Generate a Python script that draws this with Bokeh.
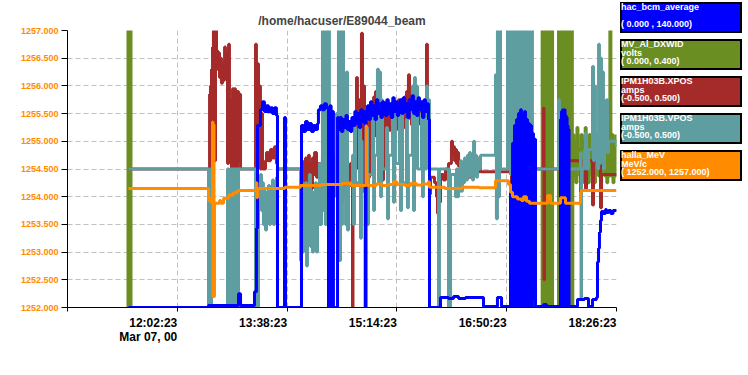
from bokeh.plotting import figure
from bokeh.models import Range1d, FixedTicker, PrintfTickFormatter, LinearAxis, Div
from bokeh.layouts import row
from bokeh.embed import file_html
from bokeh.resources import INLINE

FONT = "Liberation Sans"
TITLE = "/home/hacuser/E89044_beam"

# x = minutes after 10:26:23 (Mar 07, 00)
x_ticks = [0, 96, 192, 288, 384, 480]
x_tick_labels = ["", "12:02:23", "13:38:23", "15:14:23", "16:50:23", "18:26:23"]
date_label = "Mar 07, 00"
y_ticks = [1252.0, 1252.5, 1253.0, 1253.5, 1254.0, 1254.5, 1255.0, 1255.5, 1256.0, 1256.5, 1257.0]

series_names = ["hac_bcm_average", "MV_Al_DXWID", "IPM1H03B.XPOS", "IPM1H03B.VPOS", "halla_MeV"]
series_units = ["", "volts", "amps", "amps", "MeV/c"]
series_range_labels = ["( 0.000 , 140.000)", "( 0.000, 0.400)", "(-0.500, 0.500)", "(-0.500, 0.500)", "( 1252.000, 1257.000)"]
series_ranges = [(0.0, 140.0), (0.0, 0.4), (-0.5, 0.5), (-0.5, 0.5), (1252.0, 1257.0)]
series_colors = ["#0000FF", "#6B8E23", "#A52A2A", "#5F9EA0", "#FF8C00"]

# hac_bcm_average
bcm_t = [53.3, 123.3, 149.5, 151.3, 163.5, 165.2, 166.1, 168.7, 170.5, 172.2, 174.0, 175.7, 177.5, 179.2, 181.0, 182.7, 183.6, 189.7, 190.6, 204.6, 206.4, 208.1, 209.8, 211.5, 213.3, 215.1, 216.8, 218.6, 219.4, 221.2, 222.9, 224.7, 226.4, 228.2, 229.5, 230.5, 231.5, 232.5, 236.1,
         236.9, 238.2, 239.5, 240.8, 242.1, 243.4, 244.7, 246.0, 247.3, 248.6, 249.9, 251.2, 252.5, 253.8, 255.1, 256.4, 257.7, 259.0, 260.3, 261.0, 262.3, 263.6, 264.9, 266.2, 267.5, 268.8, 270.1, 271.4, 272.7, 274.0, 275.3, 276.6, 277.9, 279.2, 280.5, 281.8, 283.1, 284.4, 285.7, 287.0, 288.3, 289.6, 290.9, 292.2, 293.5, 294.8, 296.1, 297.4, 298.7, 300.0, 301.3, 302.6, 303.9, 305.2, 306.5, 307.8, 309.1, 310.4, 311.7, 313.0, 314.3, 315.6,
         316.5, 326.1, 333.1, 337.5, 341.9, 348.0, 363.7, 375.9, 379.5,
         387.3, 388.2, 389.1, 389.9, 390.8, 391.7, 392.6, 393.4, 394.3, 395.2, 396.1, 396.9, 397.8, 398.7, 399.6, 400.4, 401.3, 402.2, 403.1, 403.9, 404.8, 405.7, 406.5, 407.4, 408.3, 409.2, 410.0, 416.2, 418.8,
         431.0, 431.5, 431.9, 432.4, 432.8, 433.3, 433.7, 434.1, 434.5, 435.0, 435.4, 435.9, 436.3, 436.8, 437.2, 437.6, 438.1, 438.5,
         445.9, 452.0, 455.5, 459.0, 462.5, 463.4, 464.3, 465.1, 466.0, 466.9, 468.6, 470.4, 471.2, 473.0, 475.0, 477.0, 480.0]
bcm_v = [0, 1, 7, 1, 8, 40, 92, 100, 104, 99, 102, 99, 101, 98, 101, 97, 0, 96, 0, 92, 89, 94, 90, 93, 89, 92, 90, 93, 100, 102, 100, 103, 101, 0, 102, 0, 99, 0, 96,
         90, 96, 89, 95, 91, 97, 90, 94, 89, 96, 92, 99, 93, 98, 91, 100, 94, 99, 0, 97, 102, 95, 104, 97, 102, 95, 105, 98, 103, 96, 104, 99, 97, 105, 98, 103, 96, 106, 99, 104, 97, 102, 105, 98, 106, 99, 103, 96, 105, 100, 107, 98, 104, 97, 106, 100, 104, 96, 105, 99, 103, 95,
         0, 5, 4.5, 5.5, 4.5, 5, 0.5, 5, 0.5,
         60, 0, 83, 2, 92, 0, 95, 5, 98, 0, 100, 3, 97, 0, 99, 6, 95, 0, 93, 2, 92, 0, 88, 4, 85, 0, 0.5, 1.5, 0.5,
         95, 0, 99, 2, 100, 0, 98, 3, 100, 0, 97, 0, 96, 2, 92, 0, 90, 0.5,
         4, 4.5, 0.5, 4, 5, 23, 30, 38, 44, 48.5, 47.5, 49.5, 48, 49, 47.5, 49, 48.5]

# MV_Al_DXWID
dx_t = [52.5, 52.9, 53.3, 53.7, 54.2, 54.6, 55.1, 55.5,
        415.0, 415.4, 415.9, 416.3, 416.7, 417.2, 417.6, 418.1, 418.5, 418.9, 419.4, 419.8, 420.2, 420.7, 421.1, 421.5, 422.0, 422.4, 422.9, 423.3, 423.7, 424.1,
        429.3, 429.7, 430.2, 430.6, 431.1, 431.5, 432.0, 432.4, 432.9, 433.3, 433.8, 434.2, 434.7, 435.1, 435.6, 436.0, 436.5, 436.9, 437.4, 437.8, 438.3, 438.7, 439.2, 439.6, 440.1, 440.5, 441.0, 441.4,
        441.8, 442.7, 443.6, 444.5, 445.4, 446.3, 447.2, 448.1, 449.0, 449.9, 450.8, 451.7, 452.6, 453.5, 454.4, 455.3, 456.2, 457.1, 458.0, 458.9, 459.8, 460.7, 461.6, 462.5, 463.4, 464.3, 465.2, 466.1, 467.0, 467.9, 468.8, 469.7, 470.6, 471.5, 472.4, 473.3, 474.2, 475.1, 476.0, 476.9, 477.8, 478.7, 479.6]
dx_v = [0.6, -0.1, 0.6, -0.1, 0.6, -0.1, 0.6, -0.1,
        0.6, -0.1, 0.6, -0.1, 0.6, -0.1, 0.6, -0.1, 0.6, -0.1, 0.6, -0.1, 0.6, -0.1, 0.6, -0.1, 0.6, -0.1, 0.6, -0.1, 0.6, -0.1,
        0.6, -0.1, 0.6, -0.1, 0.6, -0.1, 0.6, -0.1, 0.6, -0.1, 0.6, -0.1, 0.6, -0.1, 0.6, -0.1, 0.6, -0.1, 0.6, -0.1, 0.6, -0.1, 0.6, -0.1, 0.6, -0.1, 0.6, -0.1,
        0.25, 0.19, 0.24, 0.18, 0.26, 0.2, 0.23, 0.19, 0.25, 0.18, 0.24, 0.2, 0.26, 0.19, 0.23, 0.18, 0.25, 0.2, 0.24, 0.19, 0.26, 0.18, 0.23, 0.2, 0.25, 0.19, 0.24, 0.18, 0.26, 0.2, 0.23, 0.19, 0.25, 0.18, 0.24, 0.19, 0.6, 0.19, 0.25, 0.18, 0.24, 0.19, 0.25]

# IPM1H03B.XPOS
xpos_t = [53.3, 124.2, 124.6, 125.0, 125.4, 125.9, 126.3, 126.8, 127.6, 128.5, 129.0, 129.4, 130.3, 131.1, 132.0, 132.9, 133.8, 134.6, 135.5, 136.4, 137.3, 138.1, 139.0, 139.9, 140.8, 141.6, 142.5, 143.4, 144.3, 145.1, 146.0, 146.9, 148.6, 149.5, 150.4, 151.3,
          164.4, 165.2, 166.1, 167.0, 167.8, 168.7, 169.6, 170.5, 173.1, 174.0, 175.7, 177.5, 179.2, 181.0, 182.7, 183.6,
          203.7, 204.6, 205.5, 206.4, 207.2, 208.1, 209.0, 210.7, 211.5, 212.4, 213.3, 214.2, 215.1, 216.0, 217.7, 219.4, 221.2, 222.9, 223.8, 224.7, 226.4, 229.9, 232.0, 238.7, 239.5, 240.4, 241.3, 242.2, 243.1, 243.9, 244.8, 245.7, 246.6, 247.4, 248.3, 249.2, 249.6,
          252.7, 253.5, 254.4, 255.3, 256.2, 257.0, 257.9, 258.8, 259.7, 260.5, 261.4, 262.3, 263.2, 264.1, 264.9, 265.8, 266.7, 267.6, 268.4, 269.3, 270.2, 271.0, 271.9, 272.8, 273.7, 274.6, 275.4, 276.3, 277.2, 278.0, 278.9, 279.8, 280.7, 282.4, 283.3, 284.1, 285.0, 285.9, 286.7, 287.6, 288.5, 289.4, 290.2, 291.1, 292.0, 292.9, 293.7, 294.6, 295.5, 296.4, 297.2, 298.1, 299.0, 299.9, 300.7, 301.6, 302.5, 303.4, 304.2, 305.1, 306.0, 306.9, 307.7, 308.6, 309.5, 310.4, 311.2, 312.1, 313.0, 313.9, 314.7, 315.6, 316.5,
          317.4, 320.9, 322.6, 323.5, 324.4, 325.2, 326.1, 328.7, 330.5, 333.1, 335.7, 336.6, 337.5, 338.4, 339.2, 340.1, 341.0, 341.9, 343.6, 344.5, 345.3, 346.2, 347.1, 348.0, 349.7, 350.6, 352.3, 353.2, 354.1, 355.9, 357.6, 358.5, 359.3, 360.2, 361.1, 362.8, 385.6, 387.3, 388.2, 389.1, 389.9, 390.8, 392.6, 393.4, 394.3, 395.2, 402.2, 403.1, 404.8, 405.7, 416.2, 416.6, 417.0, 431.9, 432.8, 433.7, 434.5, 437.2, 448.5, 449.0, 449.4, 452.0, 452.9, 453.8, 459.0, 459.9, 466.0, 466.9, 480.0]
xpos_v = [0, 0.27, 0.0, 0.3, 0.02, 0.36, 0.05, 0.44, 0.5, 0.47, 0.03, 0.5, 0.43, 0.36, 0.42, 0.33, 0.40, 0.31, 0.38, 0.32, 0.44, 0.35, 0.42, 0.02, 0.45, 0.03, 0.25, 0.0, 0.29, 0.02, 0.29, 0.0, 0.28, 0.03, 0.27, 0.0,
          0.45, 0.02, 0.38, 0.05, 0.3, 0.0, 0.2, 0.0, 0.03, 0.06, 0.03, 0.07, 0.04, 0.08, 0.02, 0.0,
          -0.1, 0.03, -0.12, 0.0, -0.08, 0.04, -0.06, 0.05, -0.04, 0.02, -0.07, 0.04, -0.02, 0.06, -0.03, 0.02, -0.01, 0.04, -0.02, 0.03, 0.0, 0.02, 0.0, 0.07, -0.12, 0.05, -0.1, 0.06, -0.08, 0.03, -0.12, 0.01, -0.06, 0.02, -0.05, -0.5, 0.0,
          0.33, 0.05, 0.25, 0.02, 0.2, 0.49, 0.1, 0.3, 0.05, 0.18, 0.02, 0.15, -0.03, 0.2, 0.08, 0.22, 0.1, 0.26, 0.12, 0.28, 0.15, 0.2, 0.04, 0.25, 0.0, 0.22, -0.04, 0.2, 0.1, 0.23, 0.12, 0.2, 0.14, 0.22, 0.15, 0.24, 0.16, 0.21, 0.14, 0.23, 0.15, 0.25, 0.17, 0.22, 0.16, 0.24, 0.15, 0.26, 0.17, 0.28, 0.18, 0.34, 0.2, 0.25, 0.16, 0.22, 0.17, 0.23, 0.18, 0.21, 0.16, 0.23, 0.17, 0.24, 0.18, 0.22, 0.16, 0.24, 0.2, 0.45, 0.22, 0.1, -0.09,
          -0.03, -0.05, -0.1, -0.16, -0.04, -0.12, -0.02, -0.04, 0.0, 0.02, 0.1, 0.05, 0.08, 0.03, 0.07, 0.02, 0.06, 0.01, 0.0, -0.02, -0.01, -0.03, 0.0, -0.02, 0.02, -0.03, 0.03, -0.01, 0.02, -0.02, 0.0, 0.04, -0.01, 0.02, -0.01, -0.01, -0.01, 0.13, -0.28, 0.05, -0.2, 0.0, -0.15, 0.1, -0.1, 0.02, -0.12, -0.05, -0.13, 0.0, 0.22, -0.4, 0.0, 0.03, -0.15, -0.43, 0.0, 0.03, -0.1, 0.03, 0.03, 0.07, -0.07, 0.03, -0.13, 0.03, -0.14, -0.02, -0.02]

# IPM1H03B.VPOS
vpos_t = [53.3, 123.3, 123.8, 124.2, 124.6, 125.0, 125.4, 125.9, 126.3,
          139.9, 140.4, 140.8, 141.2, 141.6, 142.1, 142.5, 143.0, 143.4, 143.8, 144.3, 144.7, 145.1, 145.6, 146.0, 146.5, 146.9, 147.3, 147.8, 148.2, 148.6, 149.1, 149.5,
          164.4, 165.2, 166.1, 167.0, 168.7, 169.6, 170.5, 171.3, 172.2, 173.1, 174.0, 174.8, 175.7, 176.6, 177.5, 178.3, 179.2, 180.1, 181.0, 181.8, 182.7, 183.6,
          203.7, 204.6, 205.5, 206.4, 207.2, 208.1, 209.0, 209.8, 210.7, 211.5, 212.4, 213.3, 214.2, 215.1, 216.0, 216.8, 217.7, 218.6, 219.4, 220.3, 221.2, 222.1, 222.9, 223.8, 224.7, 225.5, 226.4, 227.3, 228.2, 229.0, 229.9, 230.8, 231.7, 232.5, 233.4, 234.3, 235.2, 236.0, 236.9, 237.8, 238.7, 239.5, 240.4, 241.3,
          242.2, 243.1, 243.9, 244.8, 245.7, 249.2, 250.0, 250.9, 251.8, 255.3, 256.2, 257.0, 257.9, 261.4, 262.3, 263.2, 266.7, 267.6, 268.4, 271.0, 271.9, 272.8, 273.7, 274.6, 275.4, 278.9, 279.8, 280.7, 284.1, 285.0, 285.9, 286.7, 290.2, 291.1, 292.0, 292.9, 296.4, 297.2, 298.1, 301.6, 302.5, 303.4, 304.2, 305.1, 306.0, 309.5, 310.4, 311.2, 312.1, 313.9, 314.7, 315.6, 316.5,
          324.4, 325.2, 333.1, 333.5, 334.0, 334.9, 339.2, 340.1, 341.0, 341.9, 342.7, 343.6, 344.5, 345.3, 346.2, 347.1, 348.0, 349.7, 350.6, 351.5, 352.3, 353.2, 354.1, 355.0, 355.9, 356.7, 357.6, 358.5, 359.3, 361.1, 374.2, 375.0, 375.9, 376.8, 377.7, 378.6, 384.7, 385.6, 386.4, 387.3, 388.2, 389.1, 389.9, 390.8, 391.7, 392.6, 393.4, 394.3, 395.2, 396.1, 396.9, 397.8, 398.7, 399.6, 400.4, 401.3, 402.2, 403.1, 403.9, 404.8, 405.7, 406.5, 407.4, 429.3, 430.1, 431.0, 432.8, 433.7, 448.5, 449.0, 449.4, 452.0, 452.9, 453.8, 455.5, 459.0, 459.9, 460.8, 461.6, 463.4, 464.3, 465.1, 466.0, 466.9, 467.8, 468.6, 469.5, 470.4, 471.2, 472.1, 473.0, 480.0]
vpos_v = [0.0, -0.55, 0.0, -0.55, 0.0, -0.5, -0.05, -0.55, -0.55,
          0.0, -0.55, 0.0, -0.55, -0.02, -0.55, 0.0, -0.55, 0.0, -0.55, 0.0, -0.5, 0.0, -0.55, 0.0, -0.55, 0.0, -0.55, 0.0, -0.55, 0.0, -0.55, 0.0,
          -0.55, 0.0, -0.55, -0.1, -0.02, -0.15, -0.05, -0.2, -0.08, -0.22, -0.1, -0.18, -0.06, -0.2, -0.1, -0.16, -0.04, -0.2, -0.08, -0.14, -0.03, 0.0,
          -0.33, -0.05, -0.3, -0.1, -0.25, -0.05, -0.35, -0.1, -0.24, -0.02, -0.28, -0.08, -0.3, -0.1, -0.2, -0.05, -0.3, -0.12, -0.2, 0.02, -0.2, -0.05, 0.7, -0.15, 0.7, -0.2, 0.7, -0.1, 0.7, -0.22, 0.1, -0.15, 0.0, -0.1, 0.05, -0.08, 0.2, -0.3, 0.7, -0.33, 0.7, -0.2, 0.6, -0.05,
          0.3, -0.2, 0.35, -0.22, -0.05, 0.05, -0.2, 0.15, -0.05, 0.2, -0.25, 0.1, -0.08, 0.15, -0.2, -0.02, 0.2, -0.15, 0.05, 0.36, -0.05, 0.35, -0.1, 0.25, 0.0, 0.15, -0.18, 0.05, 0.2, -0.12, 0.22, 0.02, 0.2, -0.15, 0.24, -0.05, 0.18, -0.14, 0.05, 0.3, -0.15, 0.33, 0.05, 0.3, 0.0, 0.2, -0.1, 0.22, 0.0, 0.3, 0.05, 0.25, 0.0,
          -0.55, 0.0, -0.55, 0.0, -0.55, -0.02, -0.1, 0.0, -0.1, 0.0, -0.08, 0.03, -0.08, 0.02, -0.05, 0.04, -0.04, 0.05, -0.03, 0.06, -0.02, 0.05, -0.04, 0.1, -0.02, 0.05, -0.03, 0.04, 0.0, 0.05, 0.34, -0.18, 0.6, -0.1, 0.7, 0.0, 0.7, 0.0, 0.7, -0.02, 0.7, -0.3, 0.6, -0.25, 0.7, -0.3, 0.7, -0.2, 0.7, -0.35, 0.7, -0.3, 0.65, -0.2, 0.7, -0.3, 0.7, -0.25, 0.6, -0.2, 0.7, -0.1, 0.0, 0.25, 0.0, 0.2, 0.0, 0.0, 0.06, -0.47, 0.0, 0.07, 0.13, 0.0, 0.07, 0.37, 0.03, 0.3, 0.05, 0.0, 0.45, 0.02, 0.4, 0.1, 0.35, 0.0, 0.2, 0.07, 0.25, 0.06, 0.1, 0.08]

# halla_MeV
mev_t = [53.3, 123.3, 124.6, 125.4, 126.8, 127.2, 127.6, 128.1, 128.5, 133.0, 134.0, 136.5, 141.0, 145.0, 148.5, 165.2, 165.6, 166.1, 172.0, 190.0, 203.7, 222.0, 240.0, 248.0, 260.9, 261.4, 262.0, 270.0, 275.0, 280.0, 285.0, 288.0, 295.0, 300.0, 305.0, 310.0, 315.6, 316.5, 330.0, 345.0, 360.0, 374.2, 385.6, 387.3, 389.1, 393.4, 396.9, 398.7, 401.3, 403.9, 409.2, 419.7, 422.3, 426.7, 431.0, 435.4, 448.5, 449.4, 480.0]
mev_v = [1254.15, 1253.93, 1253.97, 1253.9, 1255.35, 1252.2, 1255.3, 1252.2, 1253.88, 1253.93, 1253.88, 1253.97, 1254.03, 1254.07, 1254.11, 1254.25, 1253.98, 1254.15, 1254.15, 1254.17, 1254.2, 1254.22, 1254.24, 1254.2, 1255.28, 1254.42, 1254.2, 1254.23, 1254.2, 1254.22, 1254.27, 1254.22, 1254.2, 1254.24, 1254.21, 1254.23, 1254.27, 1254.17, 1254.15, 1254.17, 1254.16, 1254.29, 1254.22, 1254.08, 1254.0, 1253.96, 1253.93, 1254.0, 1253.92, 1253.88, 1253.88, 1254.02, 1253.88, 1253.88, 1253.98, 1253.88, 1254.08, 1254.11, 1254.11]

# ---------------- main plot ----------------
p = figure(width=620, height=360, output_backend="svg", toolbar_location=None,
           x_range=Range1d(x_ticks[0], x_ticks[-1]),
           y_range=Range1d(series_ranges[4][0], series_ranges[4][1]),
           min_border_left=67, min_border_right=4, min_border_top=30, min_border_bottom=53,
           title=TITLE)
p.extra_y_ranges = {
    "bcm": Range1d(*series_ranges[0]),
    "dx": Range1d(*series_ranges[1]),
    "xpos": Range1d(*series_ranges[2]),
    "vpos": Range1d(*series_ranges[3]),
}
p.outline_line_color = None
p.background_fill_color = "white"
p.border_fill_color = "white"

p.title.text_font = FONT
p.title.text_font_size = "12px"
p.title.text_font_style = "bold"
p.title.align = "center"
p.title.standoff = 6

# tiny positive orientation -> tick labels end at their tick (right aligned)
ALIGN_RIGHT = 1e-4
xa = p.xaxis[0]
xa.ticker = FixedTicker(ticks=x_ticks)
xa.major_label_overrides = {t: lab for t, lab in zip(x_ticks, x_tick_labels)}
xa.major_label_orientation = ALIGN_RIGHT
xa.major_label_text_font = FONT
xa.major_label_text_font_style = "bold"
xa.major_label_text_font_size = "12px"
xa.major_label_text_color = "black"
xa.major_label_standoff = 11
xa.major_tick_out = 4
xa.major_tick_in = 0
xa.minor_tick_out = 0
xa.minor_tick_in = 0
xa.axis_line_color = "black"
xa.major_tick_line_color = "black"

date_axis = LinearAxis(ticker=FixedTicker(ticks=[x_ticks[1]]),
                       major_label_overrides={x_ticks[1]: date_label},
                       major_label_orientation=ALIGN_RIGHT,
                       major_label_text_font=FONT, major_label_text_font_style="bold",
                       major_label_text_font_size="12px", major_label_text_color="black",
                       major_label_standoff=-3, axis_line_color=None, major_tick_line_color=None,
                       minor_tick_line_color=None, major_tick_out=0, major_tick_in=0,
                       minor_tick_out=0, minor_tick_in=0)
p.add_layout(date_axis, "below")

p.yaxis.ticker = FixedTicker(ticks=y_ticks)
p.yaxis.formatter = PrintfTickFormatter(format="%.3f")
p.yaxis.major_label_text_color = series_colors[4]
p.yaxis.major_label_text_font = FONT
p.yaxis.major_label_text_font_style = "bold"
p.yaxis.major_label_text_font_size = "9px"
p.yaxis.major_label_standoff = 3
p.yaxis.major_tick_out = 6
p.yaxis.major_tick_in = 0
p.yaxis.minor_tick_out = 0
p.yaxis.minor_tick_in = 0
p.yaxis.axis_line_color = "black"

p.xgrid.ticker = FixedTicker(ticks=x_ticks)
p.ygrid.ticker = FixedTicker(ticks=y_ticks)
for g in (p.xgrid, p.ygrid):
    g.grid_line_color = "#C0C0C0"
    g.grid_line_dash = "5 3"
    g.grid_line_width = 1

LW = 3
p.step(dx_t, dx_v, mode="after", line_width=LW, color=series_colors[1], y_range_name="dx")
p.step(xpos_t, xpos_v, mode="after", line_width=LW, color=series_colors[2], y_range_name="xpos")
p.step(vpos_t, vpos_v, mode="after", line_width=LW, color=series_colors[3], y_range_name="vpos")
p.step(bcm_t, bcm_v, mode="after", line_width=LW, color=series_colors[0], y_range_name="bcm")
p.step(mev_t, mev_v, mode="after", line_width=LW, color=series_colors[4])

# ---------------- legend panel (HTML boxes) ----------------
boxes = []
for i, (name, unit, rng, col) in enumerate(zip(series_names, series_units, series_range_labels, series_colors)):
    boxes.append(
        f'<div style="position:absolute;left:0px;top:{2 + 37 * i}px;width:122px;height:31px;'
        f'background:{col};border:2px solid #000;">'
        f'<div style="position:absolute;left:-1px;top:-1px;line-height:8.5px;white-space:nowrap;">'
        f'{name}<br>{unit if unit else "&nbsp;"}<br>{rng}</div></div>'
    )
legend_html = ('<div style="position:relative;width:128px;height:190px;font-family:\'Liberation Sans\';'
               'font-weight:bold;font-size:9px;color:#ffffff;">' + "".join(boxes) + '</div>')
legend = Div(text=legend_html, width=128, height=360, margin=(0, 0, 0, 0))

layout = row(p, legend)
open("out.html", "w").write(file_html(layout, INLINE))
